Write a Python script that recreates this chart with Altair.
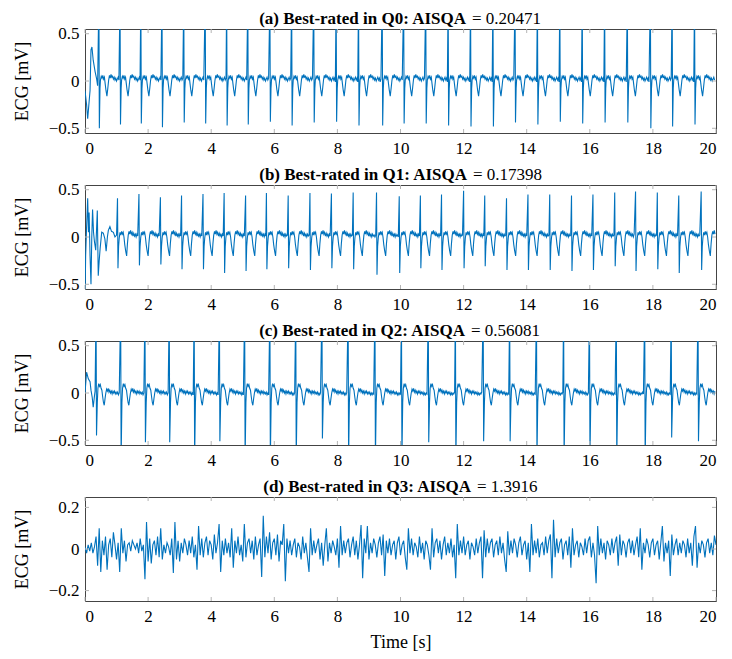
import altair as alt
import pandas as pd

BLUE = "#0072bd"
FONT = "Liberation Serif"

x_ticks = [0, 2, 4, 6, 8, 10, 12, 14, 16, 18, 20]
y_ticks_abc = [-0.5, 0.0, 0.5]
y_ticks_d = [-0.2, 0.0, 0.2]

titles_bold = ["(a) Best-rated in Q0: AISQA", "(b) Best-rated in Q1: AISQA",
               "(c) Best-rated in Q2: AISQA", "(d) Best-rated in Q3: AISQA"]
titles_val = ["= 0.20471", "= 0.17398", "= 0.56081", "= 1.3916"]

# ---- panel (a) ----
a_start_t = [0.0, 0.05, 0.085, 0.13, 0.16, 0.19, 0.22, 0.26, 0.32, 0.37, 0.40]
a_start_v = [-0.10, -0.25, -0.40, -0.22, -0.10, 0.33, 0.36, 0.22, 0.10, 0.02, -0.05]
a_beats = [0.44, 1.11, 1.77, 2.44, 3.13, 3.81, 4.49, 5.16, 5.86, 6.55, 7.25, 7.96, 8.67, 9.42,
           10.10, 10.80, 11.51, 12.22, 12.93, 13.63, 14.34, 15.05, 15.76, 16.47, 17.19, 17.92,
           18.61, 19.32]
a_peaks = [0.9, 0.9, 0.9, 0.9, 0.9, 0.9, 0.9, 0.9, 0.9, 0.9, 0.9, 0.9, 0.9, 0.9,
           0.9, 0.9, 0.9, 0.9, 0.9, 0.9, 0.9, 0.9, 0.9, 0.9, 0.9, 0.9, 0.9, 0.9]
a_troughs = [-0.50, -0.46, -0.45, -0.49, -0.44, -0.45, -0.47, -0.46, -0.43, -0.47, -0.44, -0.43,
             -0.47, -0.47, -0.45, -0.45, -0.47, -0.48, -0.48, -0.44, -0.46, -0.43, -0.45, -0.44,
             -0.44, -0.50, -0.48, -0.46]
a_wave_off = [0.035, 0.05, 0.075, 0.10, 0.125, 0.15, 0.175, 0.20, 0.225, 0.255, 0.285, 0.31,
              0.335, 0.36, 0.385, 0.41, 0.435, 0.46, 0.485, 0.51, 0.535, 0.56, 0.585, 0.61,
              0.635, 0.66, 0.685, 0.71]
a_wave_val = [-0.08, 0.01, 0.05, 0.03, 0.06, 0.02, 0.04, -0.03, -0.10, -0.16, -0.07, 0.01,
              0.06, 0.03, 0.07, 0.04, 0.05, 0.02, 0.04, 0.01, 0.03, 0.00, 0.02, 0.04,
              0.01, 0.03, -0.01, 0.02]

# ---- panel (b) ----
b_start_t = [0.0, 0.02, 0.05, 0.085, 0.11, 0.13, 0.16, 0.19, 0.215, 0.24, 0.27, 0.30, 0.34,
             0.39, 0.42, 0.45, 0.48, 0.53, 0.58, 0.63, 0.67, 0.71, 0.74, 0.79, 0.84, 0.90,
             0.95, 1.00]
b_start_v = [-0.70, -0.20, 0.10, 0.41, 0.05, 0.26, -0.20, -0.50, 0.00, 0.29, 0.05, -0.05, -0.14,
             0.28, -0.41, -0.25, -0.12, 0.05, 0.04, -0.02, -0.15, 0.00, 0.07, 0.11, 0.06, 0.05,
             0.00, 0.02]
b_beats = [1.03, 1.71, 2.39, 3.06, 3.74, 4.41, 5.09, 5.75, 6.44, 7.13, 7.81, 8.50, 9.24, 9.96,
           10.63, 11.30, 12.00, 12.67, 13.36, 14.04, 14.73, 15.42, 16.10, 16.79, 17.45, 18.14,
           18.82, 19.53]
b_peaks = [0.41, 0.455, 0.42, 0.44, 0.455, 0.465, 0.44, 0.465, 0.44, 0.465, 0.46, 0.47, 0.47,
           0.43, 0.44, 0.45, 0.49, 0.44, 0.41, 0.45, 0.45, 0.44, 0.45, 0.47, 0.48, 0.47, 0.44,
           0.48]
b_troughs = [-0.33, -0.30, -0.29, -0.34, -0.34, -0.38, -0.36, -0.34, -0.33, -0.35, -0.33, -0.34,
             -0.40, -0.38, -0.33, -0.35, -0.33, -0.31, -0.35, -0.35, -0.35, -0.36, -0.35, -0.31,
             -0.36, -0.34, -0.38, -0.35]
b_wave_off = [0.035, 0.055, 0.08, 0.105, 0.13, 0.155, 0.18, 0.205, 0.23, 0.26, 0.29, 0.315,
              0.34, 0.365, 0.39, 0.415, 0.44, 0.465, 0.49, 0.515, 0.54, 0.565, 0.59, 0.615,
              0.64, 0.665, 0.69, 0.715]
b_wave_val = [-0.10, -0.01, 0.05, 0.02, 0.06, 0.03, 0.05, 0.00, -0.08, -0.15, -0.20, -0.07,
              0.02, 0.06, 0.03, 0.07, 0.03, 0.05, 0.01, 0.04, 0.01, 0.03, 0.00, 0.03,
              0.01, 0.02, 0.00, 0.02]

# ---- panel (c) ----
c_start_t = [0.0, 0.05, 0.105, 0.16, 0.19, 0.23, 0.26, 0.30, 0.32]
c_start_v = [0.00, 0.22, 0.15, 0.12, 0.03, -0.05, -0.15, -0.03, 0.02]
c_beats = [0.35, 1.13, 1.90, 2.67, 3.46, 4.26, 5.06, 5.86, 6.68, 7.51, 8.34, 9.19, 10.03, 10.88,
           11.74, 12.62, 13.46, 14.31, 15.17, 15.99, 16.84, 17.74, 18.58, 19.43]
c_peaks = [0.9, 0.9, 0.9, 0.9, 0.9, 0.9, 0.9, 0.9, 0.9, 0.9, 0.9, 0.9,
           0.9, 0.9, 0.9, 0.9, 0.9, 0.9, 0.9, 0.9, 0.9, 0.9, 0.9, 0.9]
c_troughs = [-0.45, -0.70, -0.52, -0.52, -0.70, -0.51, -0.70, -0.70, -0.70, -0.48, -0.70, -0.70,
             -0.70, -0.52, -0.70, -0.51, -0.51, -0.70, -0.70, -0.70, -0.70, -0.70, -0.47, -0.51]
c_wave_off = [0.04, 0.06, 0.085, 0.11, 0.135, 0.16, 0.185, 0.21, 0.235, 0.26, 0.285, 0.31,
              0.335, 0.36, 0.385, 0.41, 0.435, 0.46, 0.485, 0.51, 0.535, 0.56, 0.585, 0.61,
              0.635, 0.66, 0.685, 0.71, 0.735, 0.76, 0.785, 0.81, 0.835, 0.86]
c_wave_val = [-0.10, 0.05, 0.10, 0.07, 0.09, 0.05, 0.03, -0.04, -0.10, -0.13, -0.06, 0.00,
              0.04, 0.02, 0.05, 0.01, 0.03, 0.00, 0.02, -0.01, 0.02, 0.00, 0.02, -0.01,
              0.01, -0.01, 0.01, -0.02, 0.00, -0.02, 0.00, -0.01, 0.01, -0.01]

# ---- panel (d): sampled every 0.05 s ----
d_step = 0.05
d_vals = [
    0.01, -0.02, 0.02, -0.01, 0.03, -0.02, 0.01, 0.06, -0.08, 0.10, -0.11, 0.04, -0.03, 0.06, -0.10, 0.02, 0.05, -0.04, 0.08, 0.02,
    -0.05, 0.03, -0.11, 0.10, -0.02, 0.04, -0.06, 0.02, 0.03, -0.01, 0.04, 0.02, 0.00, 0.03, -0.02, 0.05, -0.01, 0.02, -0.145, 0.13,
    -0.06, 0.05, -0.07, 0.02, 0.04, -0.03, 0.06, -0.04, 0.10, -0.05, 0.02, -0.02, 0.03, 0.01, -0.03, 0.05, -0.115, 0.13, -0.05, 0.04,
    -0.06, 0.03, -0.02, 0.05, 0.02, -0.03, 0.04, -0.02, 0.06, -0.04, 0.02, -0.10, 0.11, -0.03, 0.05, -0.04, 0.03, 0.06, -0.03, 0.04,
    0.02, -0.05, 0.07, -0.02, 0.03, 0.12, -0.11, 0.04, -0.03, 0.05, -0.02, 0.03, -0.04, 0.10, -0.09, 0.04, -0.02, 0.06, -0.03, 0.02,
    -0.06, 0.12, -0.04, 0.03, 0.05, -0.02, 0.04, -0.05, 0.06, -0.03, 0.02, 0.05, -0.135, 0.16, -0.04, 0.06, -0.02, 0.08, -0.05, 0.03,
    0.05, -0.03, 0.07, -0.06, 0.04, 0.02, 0.12, -0.155, 0.05, -0.02, 0.04, -0.03, 0.02, 0.05, -0.04, 0.03, 0.01, -0.05, 0.06, -0.02,
    0.03, -0.04, -0.11, 0.10, -0.03, 0.04, -0.02, 0.02, 0.05, -0.05, 0.03, -0.08, 0.02, 0.10, -0.06, 0.03, -0.02, 0.04, 0.01, -0.03,
    0.05, -0.09, 0.11, -0.03, 0.04, -0.02, 0.03, 0.05, -0.04, 0.02, 0.06, -0.03, 0.04, -0.05, 0.02, 0.115, -0.14, 0.05, -0.02, 0.11,
    -0.05, 0.03, -0.02, 0.05, 0.02, -0.04, 0.03, 0.06, -0.03, 0.07, -0.13, 0.04, -0.02, 0.05, -0.03, 0.02, 0.04, -0.05, 0.03, 0.06,
    -0.03, 0.02, 0.04, -0.04, -0.10, 0.10, -0.02, 0.05, -0.03, 0.03, 0.01, -0.04, 0.06, -0.02, 0.03, -0.05, 0.04, 0.02, -0.03, -0.10,
    0.10, -0.04, 0.03, 0.05, -0.02, 0.04, -0.05, 0.02, 0.06, -0.03, 0.03, -0.02, 0.05, -0.04, 0.02, -0.14, 0.12, -0.03, 0.04, -0.02,
    0.06, -0.03, 0.02, 0.04, -0.05, 0.03, 0.01, -0.03, 0.05, -0.02, 0.03, 0.06, -0.14, 0.09, -0.04, 0.05, -0.02, 0.03, 0.05, -0.04,
    0.02, 0.04, -0.03, 0.06, -0.02, 0.03, -0.05, -0.11, 0.085, -0.03, 0.04, -0.02, 0.05, 0.02, -0.04, 0.03, 0.06, -0.03, 0.02, 0.04,
    -0.05, 0.03, -0.11, 0.12, -0.03, 0.04, -0.02, 0.05, -0.04, 0.02, 0.03, -0.03, 0.06, -0.02, 0.04, 0.07, -0.14, 0.14, -0.04, 0.05,
    -0.02, 0.03, 0.05, -0.05, 0.02, 0.04, -0.03, 0.06, -0.09, 0.10, -0.03, 0.02, 0.04, -0.04, 0.03, 0.01, -0.03, 0.05, -0.02, 0.04,
    0.06, -0.04, 0.03, -0.03, -0.165, 0.11, -0.03, 0.05, -0.02, 0.03, -0.05, 0.04, 0.02, -0.03, 0.05, -0.02, 0.03, 0.06, -0.08, 0.07,
    -0.03, 0.04, 0.02, -0.04, 0.03, 0.05, -0.02, 0.04, -0.03, 0.02, 0.06, -0.04, 0.10, -0.10, 0.03, -0.02, 0.05, 0.02, -0.04, 0.03,
    0.05, -0.03, 0.02, 0.04, -0.05, 0.03, 0.11, -0.06, 0.03, -0.02, 0.04, -0.13, 0.07, -0.03, 0.02, 0.05, -0.03, 0.03, -0.02, 0.04,
    0.02, -0.04, 0.05, -0.02, 0.03, -0.08, 0.06, 0.11, -0.09, 0.03, -0.02, 0.04, 0.02, -0.04, 0.03, 0.05, -0.02, 0.03, -0.03, 0.065,
    0.02,
]

W, H = 631, 104


def build_ecg(start_t, start_v, beats, peaks, troughs, w_off, w_val):
    rows = list(zip(start_t, start_v))
    for i, tb in enumerate(beats):
        nxt = beats[i + 1] if i + 1 < len(beats) else 20.0
        rows.append((tb, peaks[i]))
        rows.append((tb + 0.015, troughs[i]))
        for off, val in zip(w_off, w_val):
            tt = tb + off
            if tt < nxt - 0.02 and tt <= 20.0:
                rows.append((tt, val))
    return pd.DataFrame(rows, columns=["t", "v"])


df_a = build_ecg(a_start_t, a_start_v, a_beats, a_peaks, a_troughs, a_wave_off, a_wave_val)
df_b = build_ecg(b_start_t, b_start_v, b_beats, b_peaks, b_troughs, b_wave_off, b_wave_val)
df_c = build_ecg(c_start_t, c_start_v, c_beats, c_peaks, c_troughs, c_wave_off, c_wave_val)
df_d = pd.DataFrame({"t": [round(i * d_step, 2) for i in range(len(d_vals))], "v": d_vals})


def panel(df, dom, yticks, tb, tv, split, last):
    xs = alt.Scale(domain=[0, 20], nice=False, zero=False)
    ys = alt.Scale(domain=dom, nice=False, zero=False)
    if last:
        xaxis = alt.Axis(values=x_ticks, format="d", title="Time [s]", ticks=False, domain=False,
                         grid=False, labelPadding=7, titlePadding=9)
    else:
        xaxis = alt.Axis(values=x_ticks, format="d", title=None, ticks=False, domain=False,
                         grid=False, labelPadding=7)
    yaxis = alt.Axis(values=yticks, format=".1~f", title="ECG [mV]", ticks=False, domain=False,
                     grid=False, labelPadding=6, titlePadding=17)
    X = alt.X("t:Q", scale=xs, axis=xaxis)
    Y = alt.Y("v:Q", scale=ys, axis=yaxis)
    line = alt.Chart(df).mark_line(color=BLUE, strokeWidth=1.1, clip=True).encode(x=X, y=Y)
    xt = pd.DataFrame({"t": x_ticks})
    yt = pd.DataFrame({"v": yticks})
    tick_col = "#b4b4b4"
    top = alt.Chart(xt).mark_rule(color=tick_col, strokeWidth=1).encode(
        x=X, y=alt.value(0), y2=alt.value(4))
    bot = alt.Chart(xt).mark_rule(color=tick_col, strokeWidth=1).encode(
        x=X, y=alt.value(H - 4), y2=alt.value(H))
    left = alt.Chart(yt).mark_rule(color=tick_col, strokeWidth=1).encode(
        y=Y, x=alt.value(0), x2=alt.value(4))
    right = alt.Chart(yt).mark_rule(color=tick_col, strokeWidth=1).encode(
        y=Y, x=alt.value(W - 4), x2=alt.value(W))
    tdf = pd.DataFrame({"bold": [tb], "val": [tv]})
    t1 = alt.Chart(tdf).mark_text(align="right", baseline="alphabetic", font=FONT, fontSize=17,
                                  fontWeight="bold", color="black").encode(
        x=alt.value(split), y=alt.value(-5), text="bold:N")
    t2 = alt.Chart(tdf).mark_text(align="left", baseline="alphabetic", font=FONT, fontSize=17,
                                  fontWeight="normal", color="black").encode(
        x=alt.value(split + 6), y=alt.value(-5), text="val:N")
    return alt.layer(line, top, bot, left, right, t1, t2).properties(width=W, height=H)


pa = panel(df_a, [-0.55, 0.55], y_ticks_abc, titles_bold[0], titles_val[0], 381, False)
pb = panel(df_b, [-0.55, 0.55], y_ticks_abc, titles_bold[1], titles_val[1], 382, False)
pc = panel(df_c, [-0.55, 0.55], y_ticks_abc, titles_bold[2], titles_val[2], 380, False)
pd_ = panel(df_d, [-0.25, 0.25], y_ticks_d, titles_bold[3], titles_val[3], 386, True)

chart = alt.vconcat(pa, pb, pc, pd_, spacing=52, bounds="flush").properties(
    padding={"left": 4, "top": 1, "right": 5, "bottom": 0}
).configure_view(stroke="#444444", strokeWidth=1).configure_axis(
    labelFont=FONT, titleFont=FONT, labelFontSize=17, titleFontSize=18,
    titleFontWeight="normal", labelColor="black", titleColor="black"
)

chart.save("out.html", embed_options={"renderer": "svg", "actions": False})
